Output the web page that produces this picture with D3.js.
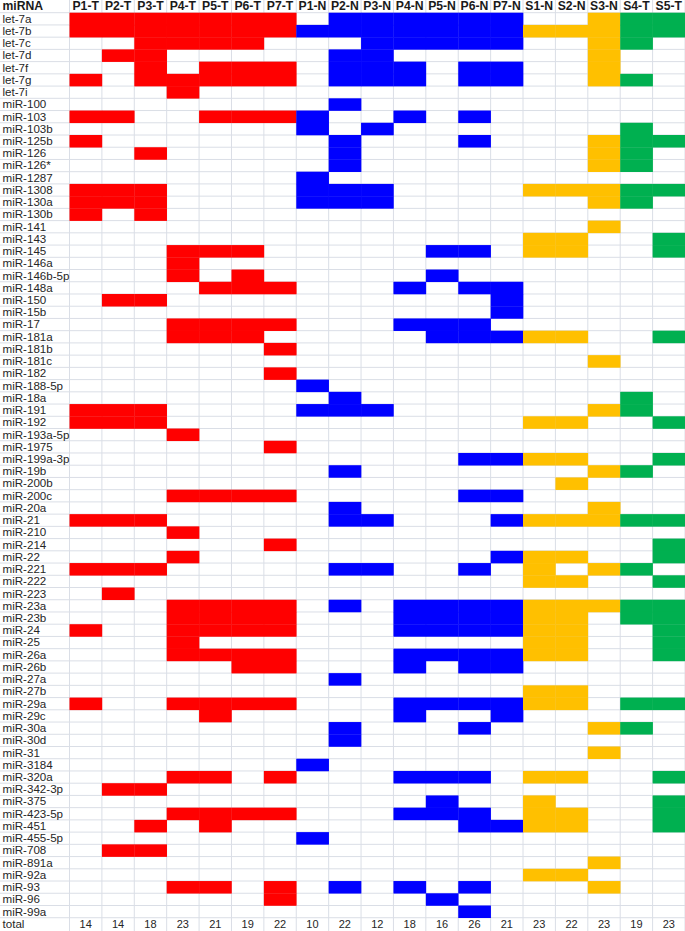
<!DOCTYPE html>
<html>
<head>
<meta charset="utf-8">
<script src="https://cdn.jsdelivr.net/npm/d3@7"></script>
<style>
  html, body { margin: 0; padding: 0; background: #fff; }
  svg { display: block; }
</style>
</head>
<body>
<div id="chart"></div>
<script>
// ---- data ----
const mirnas = ["let-7a","let-7b","let-7c","let-7d","let-7f","let-7g","let-7i","miR-100","miR-103","miR-103b",
  "miR-125b","miR-126","miR-126*","miR-1287","miR-1308","miR-130a","miR-130b","miR-141","miR-143","miR-145",
  "miR-146a","miR-146b-5p","miR-148a","miR-150","miR-15b","miR-17","miR-181a","miR-181b","miR-181c","miR-182",
  "miR-188-5p","miR-18a","miR-191","miR-192","miR-193a-5p","miR-1975","miR-199a-3p","miR-19b","miR-200b","miR-200c",
  "miR-20a","miR-21","miR-210","miR-214","miR-22","miR-221","miR-222","miR-223","miR-23a","miR-23b",
  "miR-24","miR-25","miR-26a","miR-26b","miR-27a","miR-27b","miR-29a","miR-29c","miR-30a","miR-30d",
  "miR-31","miR-3184","miR-320a","miR-342-3p","miR-375","miR-423-5p","miR-451","miR-455-5p","miR-708","miR-891a",
  "miR-92a","miR-93","miR-96","miR-99a"];

const samples = ["P1-T","P2-T","P3-T","P4-T","P5-T","P6-T","P7-T","P1-N","P2-N","P3-N","P4-N","P5-N","P6-N","P7-N","S1-N","S2-N","S3-N","S4-T","S5-T"];
const sampleGroups = ["PT","PT","PT","PT","PT","PT","PT","PN","PN","PN","PN","PN","PN","PN","SN","SN","SN","ST","ST"];
const groupNames = ["PT","PN","SN","ST"];
const groupColors = ["#ff0000","#0000ff","#ffc000","#00b050"];
const totals = [14,14,18,23,21,19,22,10,22,12,18,16,26,21,23,22,23,19,23];

// miRNAs detected in each sample
const P1_T = ["let-7a","let-7b","let-7g","miR-103","miR-125b","miR-1308","miR-130a","miR-130b","miR-191","miR-192","miR-21","miR-221","miR-24","miR-29a"];
const P2_T = ["let-7a","let-7b","let-7d","miR-103","miR-1308","miR-130a","miR-150","miR-191","miR-192","miR-21","miR-221","miR-223","miR-342-3p","miR-708"];
const P3_T = ["let-7a","let-7b","let-7c","let-7d","let-7f","let-7g","miR-126","miR-1308","miR-130a","miR-130b","miR-150","miR-191","miR-192","miR-21","miR-221","miR-342-3p","miR-451","miR-708"];
const P4_T = ["let-7a","let-7b","let-7c","let-7g","let-7i","miR-145","miR-146a","miR-146b-5p","miR-17","miR-181a","miR-193a-5p","miR-200c","miR-210","miR-22","miR-23a","miR-23b","miR-24","miR-25","miR-26a","miR-29a","miR-320a","miR-423-5p","miR-93"];
const P5_T = ["let-7a","let-7b","let-7c","let-7f","let-7g","miR-103","miR-145","miR-148a","miR-17","miR-181a","miR-200c","miR-23a","miR-23b","miR-24","miR-26a","miR-29a","miR-29c","miR-320a","miR-423-5p","miR-451","miR-93"];
const P6_T = ["let-7a","let-7b","let-7c","let-7f","let-7g","miR-103","miR-145","miR-146b-5p","miR-148a","miR-17","miR-181a","miR-200c","miR-23a","miR-23b","miR-24","miR-26a","miR-26b","miR-29a","miR-423-5p"];
const P7_T = ["let-7a","let-7b","let-7f","let-7g","miR-103","miR-148a","miR-17","miR-181b","miR-182","miR-1975","miR-200c","miR-214","miR-23a","miR-23b","miR-24","miR-26a","miR-26b","miR-29a","miR-320a","miR-423-5p","miR-93","miR-96"];
const P1_N = ["let-7b","miR-103","miR-103b","miR-1287","miR-1308","miR-130a","miR-188-5p","miR-191","miR-3184","miR-455-5p"];
const P2_N = ["let-7a","let-7b","let-7d","let-7f","let-7g","miR-100","miR-125b","miR-126","miR-126*","miR-1308","miR-130a","miR-18a","miR-191","miR-19b","miR-20a","miR-21","miR-221","miR-23a","miR-27a","miR-30a","miR-30d","miR-93"];
const P3_N = ["let-7a","let-7b","let-7c","let-7d","let-7f","let-7g","miR-103b","miR-1308","miR-130a","miR-191","miR-21","miR-221"];
const P4_N = ["let-7a","let-7b","let-7c","let-7f","let-7g","miR-103","miR-148a","miR-17","miR-23a","miR-23b","miR-24","miR-26a","miR-26b","miR-29a","miR-29c","miR-320a","miR-423-5p","miR-93"];
const P5_N = ["let-7a","let-7b","let-7c","miR-145","miR-146b-5p","miR-17","miR-181a","miR-23a","miR-23b","miR-24","miR-26a","miR-29a","miR-320a","miR-375","miR-423-5p","miR-96"];
const P6_N = ["let-7a","let-7b","let-7c","let-7f","let-7g","miR-103","miR-125b","miR-145","miR-148a","miR-17","miR-181a","miR-199a-3p","miR-200c","miR-221","miR-23a","miR-23b","miR-24","miR-26a","miR-26b","miR-29a","miR-30a","miR-320a","miR-423-5p","miR-451","miR-93","miR-99a"];
const P7_N = ["let-7a","let-7b","let-7c","let-7f","let-7g","miR-148a","miR-150","miR-15b","miR-181a","miR-199a-3p","miR-200c","miR-21","miR-22","miR-23a","miR-23b","miR-24","miR-26a","miR-26b","miR-29a","miR-29c","miR-451"];
const S1_N = ["let-7b","miR-1308","miR-143","miR-145","miR-181a","miR-192","miR-199a-3p","miR-21","miR-22","miR-221","miR-222","miR-23a","miR-23b","miR-24","miR-25","miR-26a","miR-27b","miR-29a","miR-320a","miR-375","miR-423-5p","miR-451","miR-92a"];
const S2_N = ["let-7b","miR-1308","miR-143","miR-145","miR-181a","miR-192","miR-199a-3p","miR-200b","miR-21","miR-22","miR-222","miR-23a","miR-23b","miR-24","miR-25","miR-26a","miR-27b","miR-29a","miR-320a","miR-423-5p","miR-451","miR-92a"];
const S3_N = ["let-7a","let-7b","let-7c","let-7d","let-7f","let-7g","miR-125b","miR-126","miR-126*","miR-1308","miR-130a","miR-141","miR-181c","miR-191","miR-19b","miR-20a","miR-21","miR-221","miR-23a","miR-30a","miR-31","miR-891a","miR-93"];
const S4_T = ["let-7a","let-7b","let-7c","let-7g","miR-103b","miR-125b","miR-126","miR-126*","miR-1308","miR-130a","miR-18a","miR-191","miR-19b","miR-21","miR-221","miR-23a","miR-23b","miR-29a","miR-30a"];
const S5_T = ["let-7a","let-7b","miR-125b","miR-1308","miR-143","miR-145","miR-181a","miR-192","miR-199a-3p","miR-21","miR-214","miR-22","miR-222","miR-23a","miR-23b","miR-24","miR-25","miR-26a","miR-29a","miR-320a","miR-375","miR-423-5p","miR-451"];

const detected = [P1_T,P2_T,P3_T,P4_T,P5_T,P6_T,P7_T,P1_N,P2_N,P3_N,P4_N,P5_N,P6_N,P7_N,S1_N,S2_N,S3_N,S4_T,S5_T];

// ---- layout ----
const W = 685, H = 931;
const labelW = 69.5;
const headerH = 12.7;
const rowH = 12.23;
const gridColor = "#dadee6";
const font = "'Liberation Sans', Arial, sans-serif";

const svg = d3.select("#chart").append("svg")
  .attr("width", W).attr("height", H)
  .style("font-family", font);

const x = d3.scaleBand().domain(samples).range([labelW, W]).padding(0);
const y = d3.scaleBand().domain(mirnas).range([headerH, headerH + mirnas.length * rowH]).padding(0);
const color = d3.scaleOrdinal().domain(groupNames).range(groupColors);
const totalY = headerH + mirnas.length * rowH;

// grid
const grid = svg.append("g");
const hLines = [headerH].concat(mirnas.map(m => y(m) + y.bandwidth()));
grid.selectAll("line.h").data(hLines).join("line")
  .attr("x1", 0).attr("x2", W)
  .attr("y1", d => d).attr("y2", d => d)
  .attr("stroke", gridColor).attr("stroke-width", 1);
const vLines = [labelW].concat(samples.map(s => x(s) + x.bandwidth()));
grid.selectAll("line.v").data(vLines).join("line")
  .attr("x1", d => d).attr("x2", d => d)
  .attr("y1", 0).attr("y2", H)
  .attr("stroke", gridColor).attr("stroke-width", 1);

// cells
const cells = [];
samples.forEach((s, i) => {
  detected[i].forEach(m => cells.push({sample: s, mirna: m, group: sampleGroups[i]}));
});
svg.append("g").selectAll("rect").data(cells).join("rect")
  .attr("x", d => x(d.sample))
  .attr("y", d => y(d.mirna))
  .attr("width", x.bandwidth() + 0.3)
  .attr("height", y.bandwidth() + 0.3)
  .attr("fill", d => color(d.group));

// header
svg.append("text").attr("x", 2.5).attr("y", 10.4)
  .attr("font-size", 12.2).attr("font-weight", "bold").attr("fill", "#1a1a1a")
  .text("miRNA");
svg.append("g").selectAll("text").data(samples).join("text")
  .attr("x", d => x(d) + x.bandwidth() / 2)
  .attr("y", 10.4)
  .attr("text-anchor", "middle")
  .attr("font-size", 12.2).attr("font-weight", "bold").attr("fill", "#1a1a1a")
  .text(d => d);

// row labels
svg.append("g").selectAll("text").data(mirnas).join("text")
  .attr("x", 2.5)
  .attr("y", d => y(d) + y.bandwidth() - 2.2)
  .attr("font-size", 11.6).attr("fill", "#262626")
  .text(d => d);

// total row
svg.append("text").attr("x", 2.5).attr("y", totalY + rowH - 2.2)
  .attr("font-size", 11.6).attr("fill", "#262626").text("total");
svg.append("g").selectAll("text").data(samples).join("text")
  .attr("x", d => x(d) + x.bandwidth() / 2)
  .attr("y", totalY + rowH - 2.2)
  .attr("text-anchor", "middle")
  .attr("font-size", 11).attr("fill", "#262626")
  .text((d, i) => totals[i]);
</script>
</body>
</html>
